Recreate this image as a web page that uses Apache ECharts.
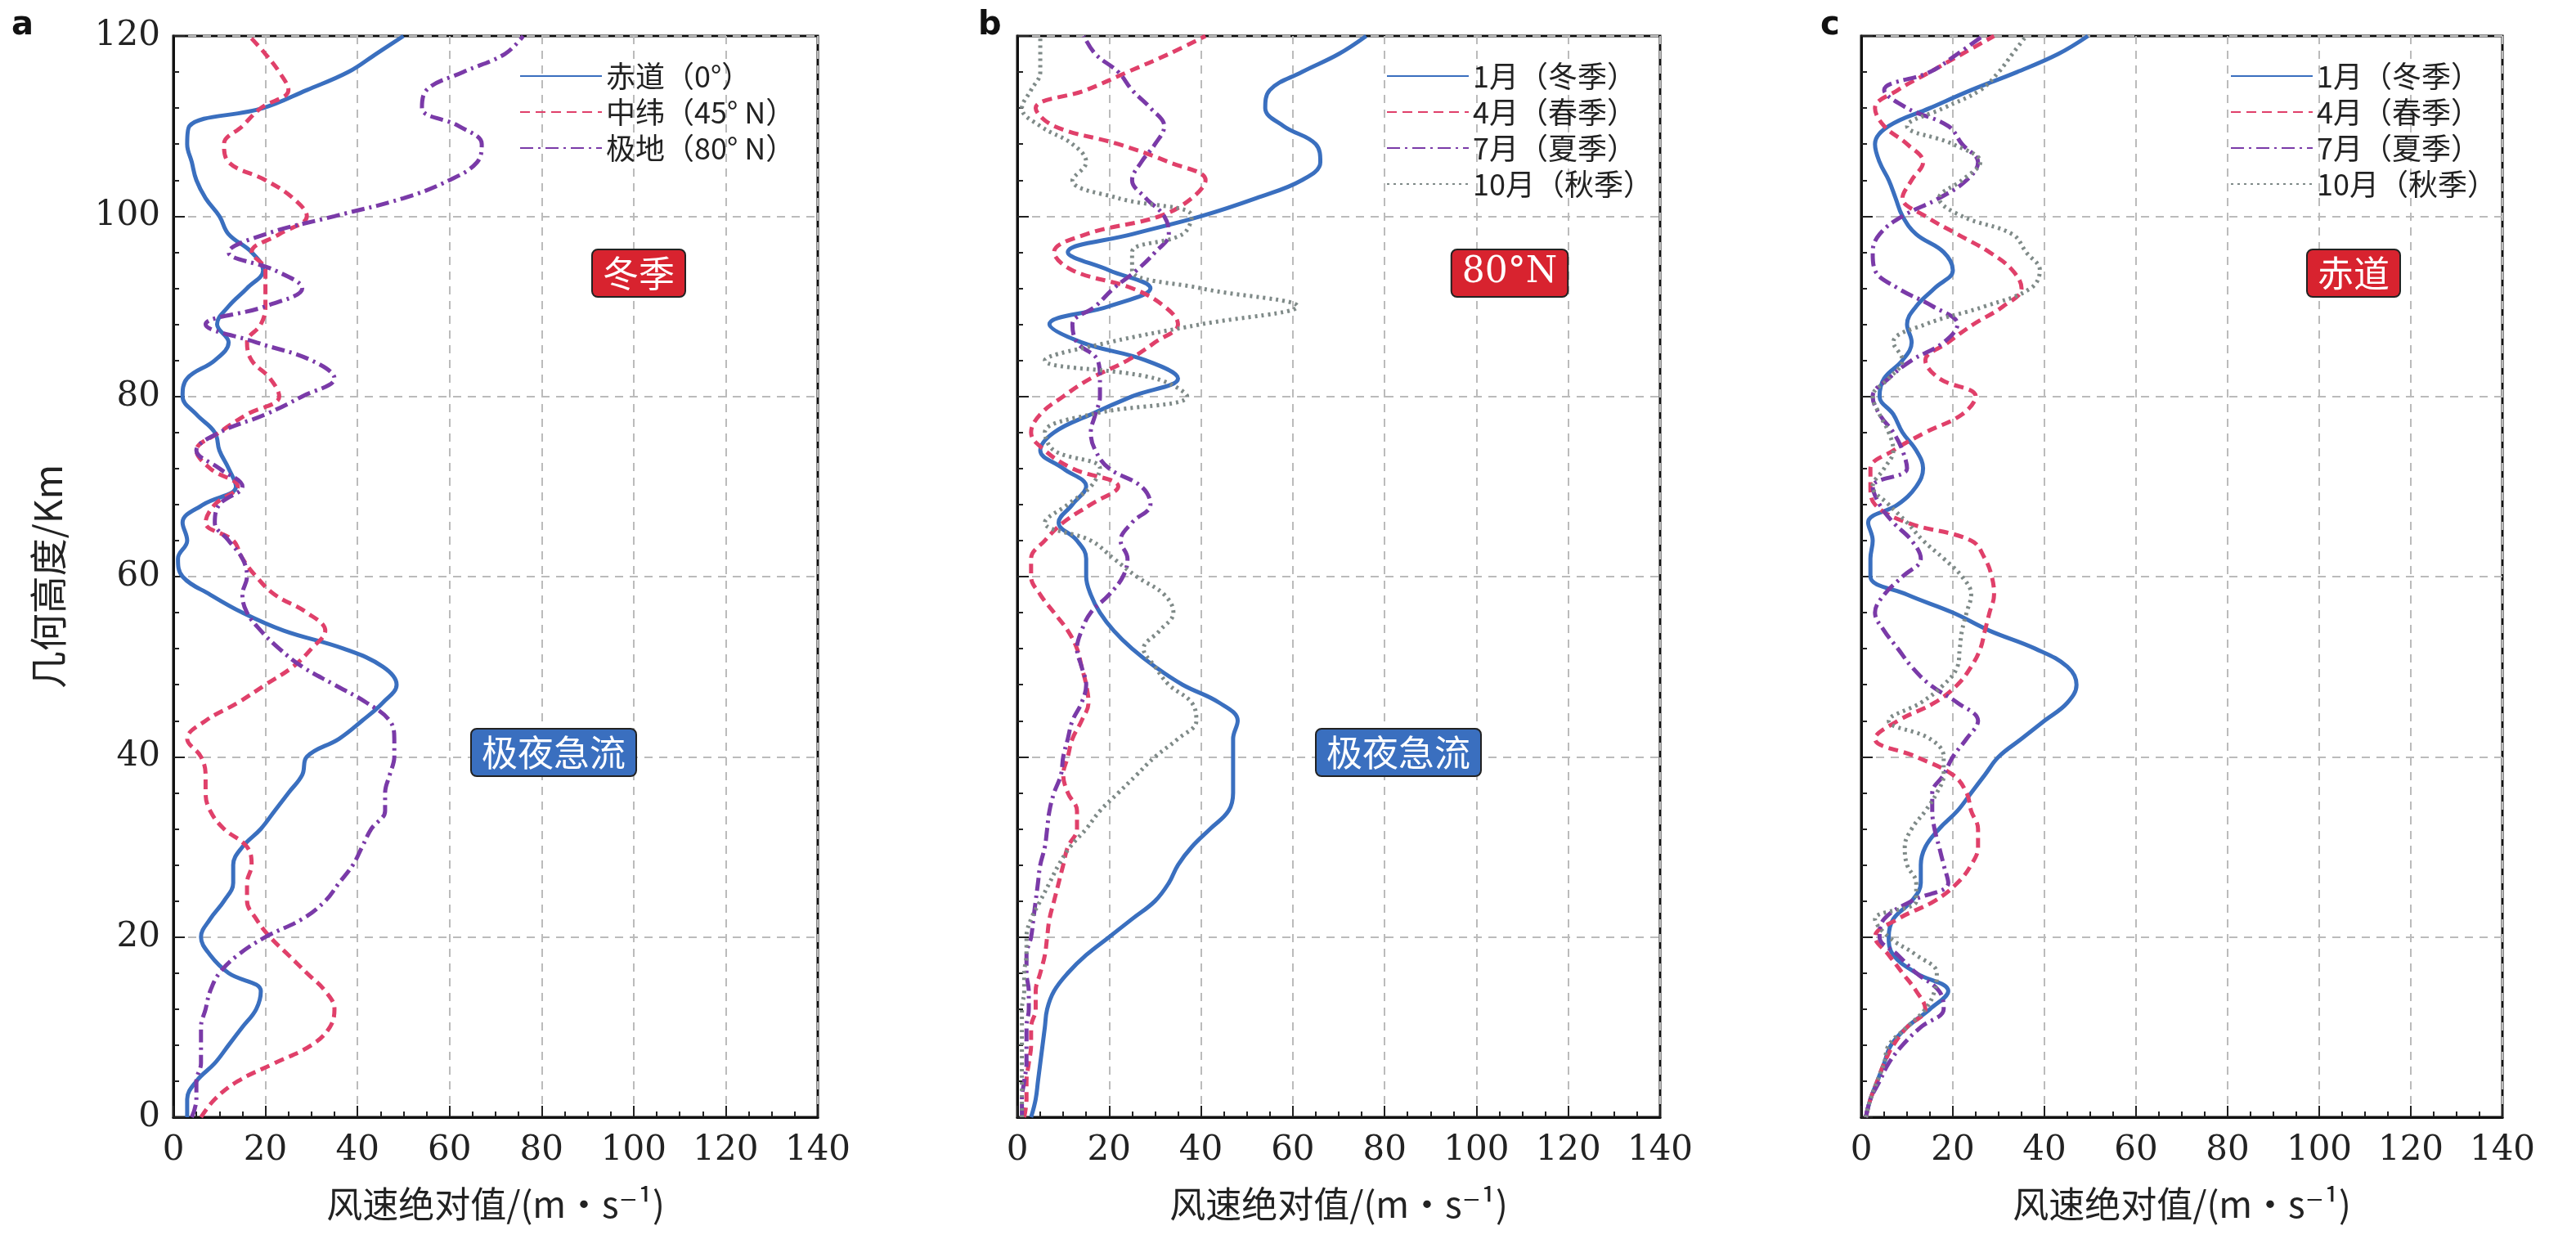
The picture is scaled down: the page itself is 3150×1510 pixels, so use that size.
<!DOCTYPE html>
<html><head><meta charset="utf-8">
<script src="https://cdn.jsdelivr.net/npm/echarts@6/dist/echarts.min.js"></script>
<style>html,body{margin:0;background:#fff}#c{width:3150px;height:1510px}</style>
</head><body><div id="c"></div>
<script>
// 高度（km），每 2 km 一个点
const heights = [];
for (let h = 0; h <= 120; h += 2) heights.push(h);

// a: 冬季 不同纬度
const aEquator = [3,3,5,9,12,15,18,19,12,8,6,8,11,13,13,15,19,22,25,28,29,36,41,45.5,48.5,45.5,37,24,15,8,2,1,3,2,6.5,13.6,12,10,9,5,2,3,9,12,9.5,12,16,19.5,17,12,10,7,5,4,3,3.5,19.5,29,38,44,50];
const aMid = [6,9,14,22,30,34,35,33,29,25,21,18,16,16,17,16,11,8,7,7,6,3,7,14,20,26,30,33,29,22,18,15,13,7,9,14,8,5,10,16,23,21,17,16,19,20,20,20,17,23,29,26,20,12,11,15,19,25,23,20,16.5];
const aPolar = [4,5,5,6,6,6,7,8,10,14,20,28,33,36,39,41,43,46,46,47,48,48,47,42,35,28,23,19,16,15,16,15,12,9,10,15,10,5,10,20,28,35,30,18,7,20,28,22,12,20,35,50,60,66,67,62,54,55,63,72,76];

// b: 80°N 各季节
const bJan = [3,4,4.5,5,5.5,6,6.5,8,11,15,20,25,30,33,35,38,42,46,47,47,47,47,48,44,36,30,25,21,18,16,15,15,13,9,12,15,10,5,8,16,25,35,28,14,7,20,29,20,11,25,40,52,62,66,65,58,54,55,62,70,76];
const bApr = [1.5,2,2,2.5,3,3,4,4,5,6,6.5,7,8,9,10,11,13,13,11,10,11,12,14,15.5,15,14,13,11,8,5,3,3,6,10,16,22,12,6,3,5,10,16,24,30,35,32,25,12,8,15,31,38,41,33,22,8,4,15,24,33,41];
const bJul = [1,1,1.5,2,2,2,2.5,2.5,2,2,3,3.5,4,4.5,5,6,6.5,7,8,9.5,10,11,12,14,15,14,13,14,16,20,23,24,22.5,25,29,27,20,17,16,17,18,18,17.5,13,12,17,21,26,30,33,32,28,25,27,30,32,29,25,22,17,14.5];
const bOct = [1,1,1,1,1,1,1,1.5,1.5,2,2,3,5,7,9,11.5,15,18,22,26,30,35,39,38,33,30,27.5,31,34,32,26,21,16,6,11,16,18,8,6,16,37,30,6,20,40,61,40,25,25,36,38,22,12,15,12,5,1,3,5,5,5];

// c: 赤道 各季节
const cJan = [1,2,3.5,5,6.5,10,15,19,12,7,6,7,11,13,13,14,17,21,24,27,30,35,40,45,47,45,38,28,20,10,2,2,2.5,1.5,8,12,13.5,12,9,7,4,5,9,11,10,12,16,20,18,12,9,7.5,6,4,3,6,15,24,34,43,49.5];
const cApr = [1,2,3.5,5,7,10,14,12,9,6,3,8,16,21,24,25.5,25.5,24,23,20,12,3,8,16,21,24,26,27,28,29,28.5,27,24,10,3,2,2,7,14,22,25,17,14,19,24.5,31,35,33,28,21,14,9,11,13.5,10,5,3,8,15,22,29];
const cJul = [1,2,4,6,9,13,18,17,12,8,4,5,11,19,18,17,16,15.5,15.5,18,20,23,25.5,21,15,11,8,5,3,5,9,13,11,7,4,2.5,10,9,7,4,2.5,6,11,18,21,15.6,8,3,2.5,4,9,17,23,25.5,22,19,10,5,15,21,26.5];
const cOct = [1,2,3.5,5,6,10,14,16,16.5,12,6,3,12,12,10,9.5,11,14,16.5,18,18,15,6,13,18,21,21.5,22,23,24,22,18,13.5,10,6,2.5,5,7,6,4,2.5,6,9,7,14,27,37,39,36,33,22,17,22,26,20,10,18,26,30,33,36];

const nameA = ['赤道（0°）','中纬（45° N）','极地（80° N）'];
const nameBC = ['1月（冬季）','4月（春季）','7月（夏季）','10月（秋季）'];

const blue = '#3a6fbf', red = '#e0406a', purple = '#7a3aa8', grey = '#7f8a88';
const serif = '"DejaVu Serif","Liberation Serif",serif';
const cjk = '"Noto Sans CJK SC","DejaVu Serif",serif';

const pairs = arr => arr.map((v, i) => [v, heights[i]]);

const grids = [
  {left: 212, width: 788, top: 44, height: 1322},
  {left: 1244, width: 786, top: 44, height: 1322},
  {left: 2276, width: 784, top: 44, height: 1322}
].map(g => Object.assign(g, {show: true, borderColor: '#111', borderWidth: 3, backgroundColor: 'transparent'}));

const xAxes = [0,1,2].map(i => ({
  type: 'value', gridIndex: i, min: 0, max: 140, interval: 20,
  name: '风速绝对值/(m·s⁻¹)', nameLocation: 'middle', nameGap: 84,
  nameTextStyle: {fontFamily: cjk, fontSize: 44, color: '#222'},
  axisLine: {show: true, lineStyle: {color: '#111', width: 3}},
  axisTick: {inside: true, length: 14, lineStyle: {color: '#222', width: 2}},
  minorTick: {show: true, splitNumber: 4, length: 7, lineStyle: {color: '#222', width: 2}},
  axisLabel: {fontFamily: serif, fontSize: 42, color: '#222', margin: 20},
  splitLine: {show: true, lineStyle: {color: '#bbb', type: [10, 8], width: 2}}
}));

const yAxes = [0,1,2].map(i => ({
  type: 'value', gridIndex: i, min: 0, max: 120, interval: 20,
  name: i === 0 ? '几何高度/Km' : '', nameLocation: 'middle', nameGap: 130,
  nameTextStyle: {fontFamily: cjk, fontSize: 46, color: '#222'},
  axisLine: {show: true, lineStyle: {color: '#111', width: 3}},
  axisTick: {inside: true, length: 14, lineStyle: {color: '#222', width: 2}},
  minorTick: {show: true, splitNumber: 5, length: 7, lineStyle: {color: '#222', width: 2}},
  axisLabel: {show: i === 0, fontFamily: serif, fontSize: 42, color: '#222', margin: 16},
  splitLine: {show: true, lineStyle: {color: '#bbb', type: [10, 8], width: 2}}
}));

function line(name, data, gi, color, type) {
  return {
    name: name, type: 'line', xAxisIndex: gi, yAxisIndex: gi,
    data: pairs(data), smooth: 0.4, showSymbol: false, symbol: 'none',
    lineStyle: {color: color, width: 5, type: type}, itemStyle: {color: color},
    z: 3
  };
}

const series = [
  line(nameA[0], aEquator, 0, blue, 'solid'),
  line(nameA[1], aMid, 0, red, [12, 7]),
  line(nameA[2], aPolar, 0, purple, [16, 6, 3, 6]),
  line(nameBC[0], bJan, 1, blue, 'solid'),
  line(nameBC[1], bApr, 1, red, [12, 7]),
  line(nameBC[2], bJul, 1, purple, [16, 6, 3, 6]),
  line(nameBC[3], bOct, 1, grey, [3, 5]),
  line(nameBC[0], cJan, 2, blue, 'solid'),
  line(nameBC[1], cApr, 2, red, [12, 7]),
  line(nameBC[2], cJul, 2, purple, [16, 6, 3, 6]),
  line(nameBC[3], cOct, 2, grey, [3, 5])
];

const legendBase = {
  orient: 'vertical', itemWidth: 100, itemHeight: 20, itemGap: 8,
  itemStyle: {color: 'transparent', borderWidth: 0},
  textStyle: {fontFamily: cjk, fontSize: 36, color: '#222'}
};
const legends = [
  Object.assign({}, legendBase, {data: nameA, left: 630, top: 70}),
  Object.assign({}, legendBase, {data: nameBC, left: 1690, top: 70}),
  Object.assign({}, legendBase, {data: nameBC, left: 2722, top: 70})
];

function box(text, cx, cy, bg) {
  return {
    type: 'text', x: cx, y: cy, z: 10,
    style: {
      text: text, align: 'center', verticalAlign: 'middle',
      fontFamily: text === '80°N' ? serif : cjk, fontSize: 44, fill: '#fff',
      backgroundColor: bg, borderColor: '#222', borderWidth: 2, borderRadius: 6,
      padding: [6, 12, 6, 12]
    }
  };
}
function letter(t, x) {
  return {type: 'text', x: x, y: 12, style: {text: t, fontFamily: '"DejaVu Sans",sans-serif', fontWeight: 'bold', fontSize: 40, fill: '#111'}};
}

const chart = echarts.init(document.getElementById('c'), null, {renderer: 'canvas'});
chart.setOption({
  backgroundColor: '#fff',
  animation: false,
  grid: grids, xAxis: xAxes, yAxis: yAxes,
  legend: legends,
  series: series,
  graphic: [
    letter('a', 14), letter('b', 1196), letter('c', 2226),
    box('冬季', 781, 334, '#d8232f'),
    box('极夜急流', 677, 920, '#3a6fbf'),
    box('80°N', 1846, 334, '#d8232f'),
    box('极夜急流', 1710, 920, '#3a6fbf'),
    box('赤道', 2878, 334, '#d8232f')
  ]
});
</script></body></html>
